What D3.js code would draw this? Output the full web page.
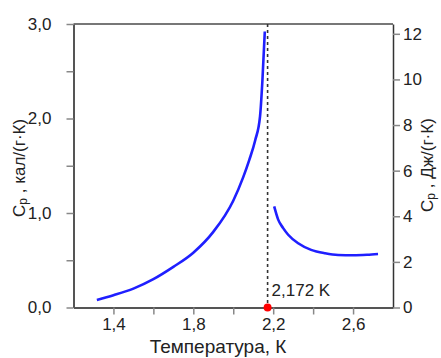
<!DOCTYPE html>
<html>
<head>
<meta charset="utf-8">
<script src="https://cdn.jsdelivr.net/npm/d3@7"></script>
<style>
  body { margin: 0; background: #fff; }
  text { font-family: "Liberation Sans", Arial, sans-serif; }
</style>
</head>
<body>
<div id="chart"></div>
<script>
// data, Cp in cal/(g*K)
const tempBelow = [1.317, 1.4, 1.5, 1.6, 1.7, 1.8, 1.9, 2.0, 2.05, 2.08, 2.11, 2.134, 2.146, 2.158];
const cpBelow = [0.08, 0.13, 0.20, 0.30, 0.43, 0.58, 0.80, 1.13, 1.38, 1.56, 1.77, 2.02, 2.40, 2.92];
const tempAbove = [2.205, 2.225, 2.25, 2.275, 2.325, 2.39, 2.46, 2.525, 2.6, 2.67, 2.725];
const cpAbove = [1.07, 0.93, 0.84, 0.77, 0.68, 0.61, 0.574, 0.556, 0.553, 0.558, 0.566];
const lambdaT = 2.172;
const lambdaLabel = '2,172 K';
const xTicks = [1.4, 1.6, 1.8, 2.0, 2.2, 2.4, 2.6];
const xLabelled = [1.4, 1.8, 2.2, 2.6];
const calTicks = [0, 0.5, 1, 1.5, 2, 2.5, 3];
const jouleTicks = [0, 2, 4, 6, 8, 10, 12];

const W = 441, H = 358;
const margin = {top: 24, right: 48, bottom: 50.5, left: 73.5};

const svg = d3.select('#chart').append('svg')
    .attr('width', W)
    .attr('height', H);

const x = d3.scaleLinear().domain([1.2, 2.8]).range([margin.left, W - margin.right]);
const y = d3.scaleLinear().domain([0, 3]).range([H - margin.bottom, margin.top]);
// right axis in J/(g*K), same vertical extent
const yJ = d3.scaleLinear().domain([0, 12.43]).range([H - margin.bottom, margin.top]);

const comma = v => v.toFixed(1).replace('.', ',');

// frame top line
svg.append('line')
    .attr('x1', x(1.2)).attr('x2', x(2.8))
    .attr('y1', y(3)).attr('y2', y(3))
    .attr('stroke', '#777').attr('stroke-width', 2);

// bottom axis
const gx = svg.append('g')
    .attr('transform', `translate(0,${y(0)})`)
    .call(d3.axisBottom(x).tickValues(xTicks).tickSize(7).tickSizeOuter(0).tickPadding(3)
        .tickFormat(d => xLabelled.includes(d) ? comma(d) : ''));

// left axis
const gl = svg.append('g')
    .attr('transform', `translate(${x(1.2)},0)`)
    .call(d3.axisLeft(y).tickValues(calTicks).tickSize(7).tickSizeOuter(0).tickPadding(15)
        .tickFormat(d => d % 1 === 0 ? comma(d) : ''));

// right axis
const gr = svg.append('g')
    .attr('transform', `translate(${x(2.8)},0)`)
    .call(d3.axisRight(yJ).tickValues(jouleTicks).tickSize(7).tickSizeOuter(0).tickPadding(3));

[gx, gl, gr].forEach(g => {
    g.select('.domain').attr('stroke', '#555').attr('stroke-width', 2);
    g.selectAll('.tick line').attr('stroke', '#888').attr('stroke-width', 1.5);
    g.selectAll('.tick text').attr('fill', '#222').style('font-size', '17px')
        .style('font-family', '"Liberation Sans", Arial, sans-serif');
});
gr.select('.domain').attr('stroke', '#333').attr('stroke-width', 1.5);

// lambda point dashed line
svg.append('line')
    .attr('x1', x(lambdaT)).attr('x2', x(lambdaT))
    .attr('y1', y(3)).attr('y2', y(0))
    .attr('stroke', '#333').attr('stroke-width', 1.6)
    .attr('stroke-dasharray', '3,3');

// curves
const line = d3.line()
    .x(d => x(d[0]))
    .y(d => y(d[1]))
    .curve(d3.curveMonotoneX);

[[tempBelow, cpBelow], [tempAbove, cpAbove]].forEach(([ts, cs]) => {
    svg.append('path')
        .datum(ts.map((t, i) => [t, cs[i]]))
        .attr('d', line)
        .attr('fill', 'none')
        .attr('stroke', '#1f1fff')
        .attr('stroke-width', 2.6);
});

// red marker
svg.append('circle')
    .attr('cx', x(lambdaT)).attr('cy', y(0))
    .attr('r', 4)
    .attr('fill', '#ff0000');

svg.append('text')
    .attr('x', x(lambdaT) + 4)
    .attr('y', y(0) - 12)
    .style('font-size', '17px')
    .attr('fill', '#222')
    .text(lambdaLabel);

// axis titles
svg.append('text')
    .attr('x', 218)
    .attr('y', 353)
    .attr('text-anchor', 'middle')
    .style('font-size', '19px')
    .attr('fill', '#222')
    .text('Температура, К');

function yTitle(tx, ty, unit) {
    const t = svg.append('text')
        .attr('transform', `translate(${tx},${ty}) rotate(-90)`)
        .style('font-size', '17px')
        .attr('fill', '#222');
    t.append('tspan').text('C');
    t.append('tspan').attr('dy', 2).style('font-size', '12px').text('p');
    t.append('tspan').attr('dy', -2).text(' , ' + unit);
}
yTitle(25, 217, 'кал/(г·К)');
yTitle(433, 212, 'Дж/(г·К)');
</script>
</body>
</html>
